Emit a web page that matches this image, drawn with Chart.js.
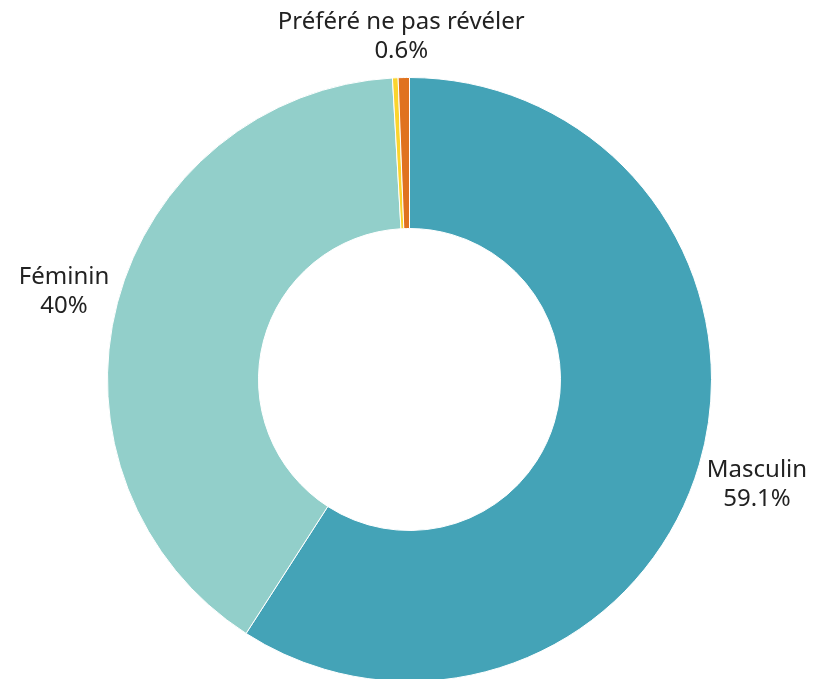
<!DOCTYPE html>
<html>
<head>
<meta charset="utf-8">
<script src="https://cdn.jsdelivr.net/npm/chart.js@4.4.1/dist/chart.umd.min.js"></script>
<style>
  html, body { margin: 0; padding: 0; background: #fff; overflow: hidden; }
  #wrap { width: 831px; height: 682px; }
</style>
</head>
<body>
<div id="wrap"><canvas id="myChart"></canvas></div>
<script>
// data
const categories = ['Masculin', 'Féminin', 'Autre', 'Préféré ne pas révéler'];
const percents = [59.1, 40, 0.3, 0.6];
const colours = ['#44a3b7', '#92cfca', '#fbd42e', '#e0721f'];
const unlabelled = ['Autre'];

const outsideLabels = {
  id: 'outsideLabels',
  afterDatasetsDraw(chart) {
    const ctx = chart.ctx;
    const meta = chart.getDatasetMeta(0);
    ctx.save();
    ctx.font = '24px "Noto Sans", sans-serif';
    ctx.fillStyle = '#222';
    ctx.textAlign = 'center';
    ctx.textBaseline = 'middle';
    meta.data.forEach(function (arc, i) {
      if (unlabelled.includes(categories[i])) return;
      const p = arc.getProps(['x', 'y', 'startAngle', 'endAngle', 'outerRadius']);
      const mid = (p.startAngle + p.endAngle) / 2;
      const dx = Math.cos(mid), dy = Math.sin(mid);
      const lines = [categories[i], percents[i] + '%'];
      const w = Math.max.apply(null, lines.map(l => ctx.measureText(l).width));
      const lh = 29, h = lh * 2;
      const ax = p.x + dx * (p.outerRadius + 10);
      const ay = p.y + dy * (p.outerRadius + 12);
      const cx = ax + dx * w / 2;
      // right-hand labels sit a little lower in the reference
      const cy = ay + dy * h / 2 + (dx > 0.5 ? 8 : 0);
      ctx.fillText(lines[0], cx, cy - lh / 2);
      ctx.fillText(lines[1], cx, cy + lh / 2);
    });
    ctx.restore();
  }
};

function myLoadFunction() {
  const ctx = document.getElementById('myChart').getContext('2d');
  const myChart = new Chart(ctx, {
    type: 'doughnut',
    data: {
      labels: categories,
      datasets: [{
        data: percents,
        backgroundColor: colours,
        borderColor: '#ffffff',
        borderWidth: 1
      }]
    },
    options: {
      responsive: true,
      maintainAspectRatio: false,
      animation: false,
      cutout: '50%',
      layout: { padding: { top: 77, right: 12, bottom: 0, left: 0 } },
      plugins: {
        legend: { display: false },
        tooltip: { enabled: false }
      }
    },
    plugins: [outsideLabels]
  });
}

document.addEventListener('DOMContentLoaded', myLoadFunction);
</script>
</body>
</html>
